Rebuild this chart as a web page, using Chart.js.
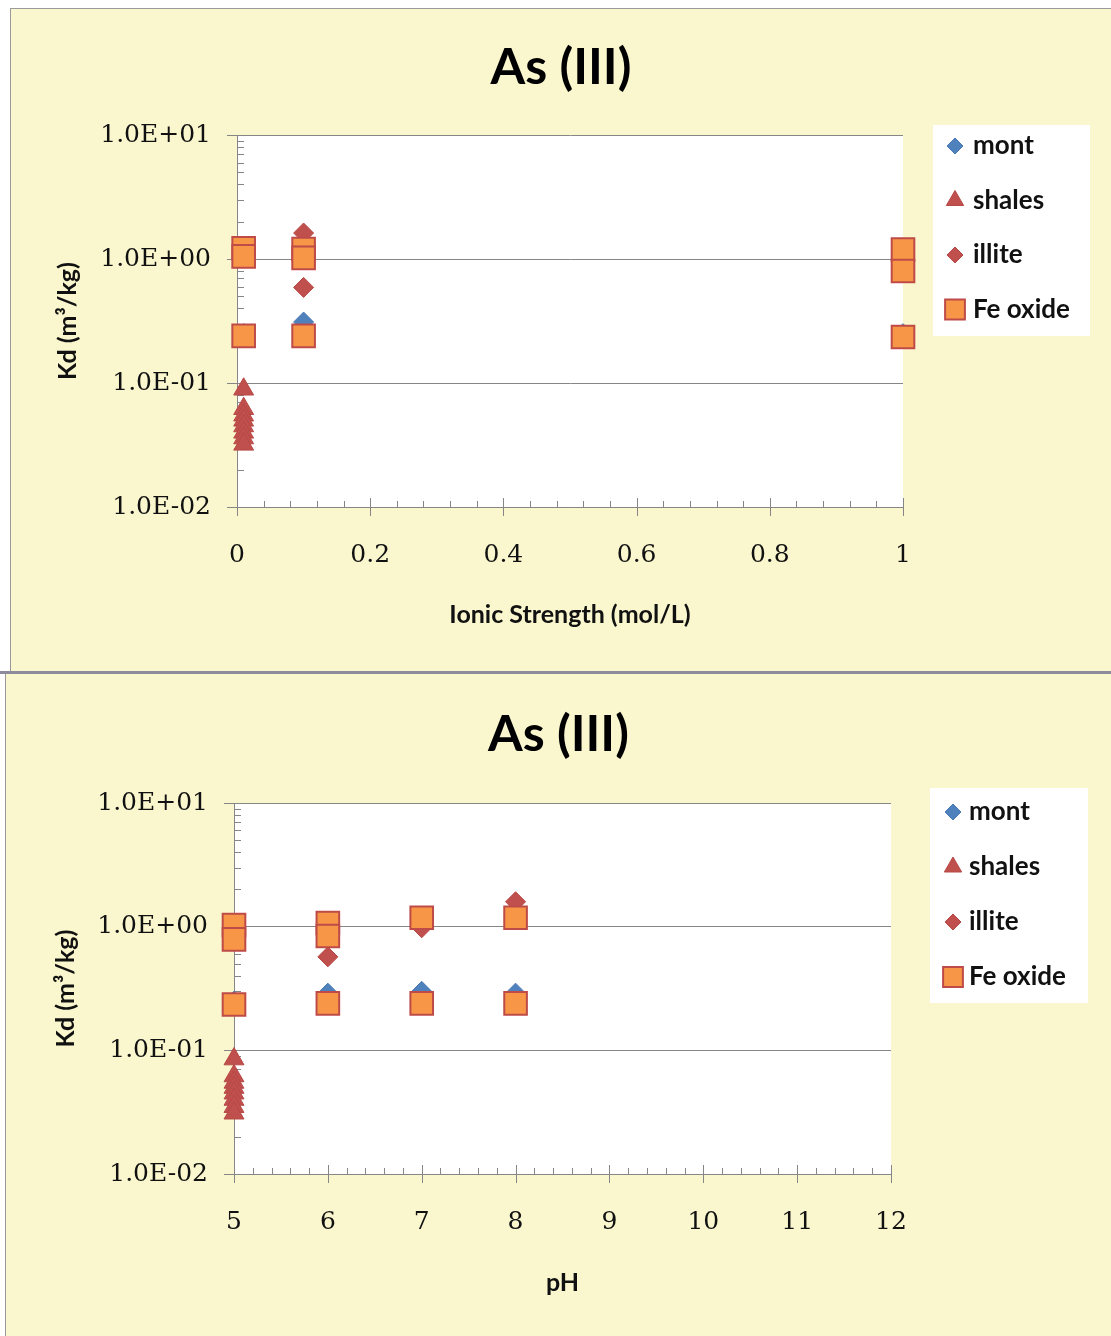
<!DOCTYPE html>
<html>
<head>
<meta charset="utf-8">
<script src="https://cdn.jsdelivr.net/npm/chart.js@4.4.1/dist/chart.umd.min.js"></script>
<style>
  html, body { margin: 0; padding: 0; background: #fff; }
  body { width: 1111px; height: 1336px; position: relative; overflow: hidden; }
  .panel { position: absolute; background: #FAF7CE; }
  #p1 { left: 10px; top: 8px; width: 1100px; height: 662px; border-left: 1px solid #9a9a9a; border-top: 1px solid #9a9a9a; }
  #sep { position: absolute; left: 0; top: 671px; width: 1111px; height: 3px; background: #8E8B9C; }
  #p2 { left: 5px; top: 674px; width: 1105px; height: 662px; border-left: 1px solid #9a9a9a; }
  canvas { position: absolute; left: 0; top: 0; }
</style>
</head>
<body>
<div class="panel" id="p1"><canvas id="ionicChart" width="1100" height="662"></canvas></div>
<div id="sep"></div>
<div class="panel" id="p2"><canvas id="phChart" width="1105" height="662"></canvas></div>

<script>
// ---- data ----
const seriesNames = ['mont', 'shales', 'illite', 'Fe oxide'];
const kdTicks = [0.01, 0.1, 1, 10];
const kdLabels = ['1.0E-02', '1.0E-01', '1.0E+00', '1.0E+01'];
const ionicTicks = [0, 0.2, 0.4, 0.6, 0.8, 1];
const ionicLabels = ['0', '0.2', '0.4', '0.6', '0.8', '1'];
const phTicks = [5, 6, 7, 8, 9, 10, 11, 12];
const phLabels = ['5', '6', '7', '8', '9', '10', '11', '12'];

// Kd vs ionic strength
const ionicMontX = [0.01, 0.1, 1];
const ionicMontY = [0.25, 0.31, 0.25];
const ionicShalesX = [0.01, 0.01, 0.01, 0.01, 0.01, 0.01, 0.01, 0.01];
const ionicShalesY = [0.089, 0.062, 0.055, 0.05, 0.045, 0.04, 0.036, 0.032];
const ionicIlliteX = [0.01, 0.1, 0.1, 1];
const ionicIlliteY = [1.1, 1.62, 0.59, 1.0];
const ionicFeX = [0.01, 0.01, 0.01, 0.1, 0.1, 0.1, 1, 1, 1];
const ionicFeY = [1.22, 1.05, 0.24, 1.2, 1.02, 0.24, 1.19, 0.8, 0.235];

// Kd vs pH
const phMontX = [5, 6, 7, 8];
const phMontY = [0.25, 0.29, 0.3, 0.29];
const phShalesX = [5, 5, 5, 5, 5, 5, 5, 5];
const phShalesY = [0.085, 0.062, 0.055, 0.05, 0.045, 0.04, 0.035, 0.031];
const phIlliteX = [5, 6, 7, 8];
const phIlliteY = [0.9, 0.57, 0.98, 1.59];
const phFeX = [5, 5, 5, 6, 6, 6, 7, 7, 8, 8];
const phFeY = [1.03, 0.79, 0.235, 1.07, 0.84, 0.24, 1.18, 0.24, 1.18, 0.24];

// ---- styling ----
const markStyles = [
  { style: 'rectRot',  r: 10, fill: '#4F81BD', line: '#4A7AB5', bw: 1, order: 3, legendR: 8 },
  { style: 'triangle', r: 11.5, fill: '#C0504D', line: '#B84845', bw: 1, order: 2, legendR: 10 },
  { style: 'rectRot',  r: 10, fill: '#C0504D', line: '#B84845', bw: 1, order: 1, legendR: 8 },
  { style: 'rect',     r: 16, fill: '#F79646', line: '#BE4B48', bw: 2, order: 0, legendR: 14 }
];
const gridGray = '#868686';
const sansBold = { family: 'Lato', weight: 'bold' };
const serifTick = { family: 'DejaVu Serif', weight: 'normal', size: 25 };

const isNear = (a, b) => Math.abs(Math.log10(a) - Math.log10(b)) < 1e-6;
const isDecade = v => kdTicks.some(t => isNear(v, t));

// white plot area
const plotBg = {
  id: 'plotBg',
  beforeDraw(chart) {
    const { ctx, chartArea: a } = chart;
    ctx.save();
    ctx.fillStyle = '#ffffff';
    ctx.fillRect(a.left, a.top, a.right - a.left, a.bottom - a.top);
    ctx.restore();
  }
};

// Excel-like tick marks: major crossing, minor inside
const axisTicks = {
  id: 'axisTicks',
  beforeDatasetsDraw(chart, args, o) {
    const { ctx, chartArea: a, scales: { x, y } } = chart;
    ctx.save();
    ctx.strokeStyle = gridGray;
    ctx.lineWidth = 1;
    ctx.beginPath();
    const xt = o.xMajor;
    xt.forEach((v, i) => {
      const px = Math.round(x.getPixelForValue(v)) + 0.5;
      ctx.moveTo(px, a.bottom - 9);
      ctx.lineTo(px, a.bottom + 9);
      if (i < xt.length - 1) {
        const step = (xt[i + 1] - v) / o.xMinorCount;
        for (let k = 1; k < o.xMinorCount; k++) {
          const mx = Math.round(x.getPixelForValue(v + k * step)) + 0.5;
          ctx.moveTo(mx, a.bottom - 6);
          ctx.lineTo(mx, a.bottom);
        }
      }
    });
    kdTicks.slice(0, -1).forEach(d => {
      for (let m = 2; m < 10; m++) {
        const py = Math.round(y.getPixelForValue(d * m)) + 0.5;
        ctx.moveTo(a.left, py);
        ctx.lineTo(a.left + 7, py);
      }
    });
    ctx.stroke();
    ctx.restore();
  }
};

// boxed legend at the top right, as in the reference
const boxLegend = {
  id: 'boxLegend',
  afterDatasetsDraw(chart, args, o) {
    const ctx = chart.ctx;
    ctx.save();
    ctx.fillStyle = '#ffffff';
    ctx.fillRect(o.x, o.y, o.w, o.h);
    chart.data.datasets.forEach((ds, i) => {
      const cy = o.firstY + i * o.gap;
      ctx.fillStyle = ds.backgroundColor;
      ctx.strokeStyle = ds.borderColor;
      ctx.lineWidth = ds.borderWidth;
      Chart.helpers.drawPoint(ctx, { pointStyle: ds.pointStyle, radius: markStyles[i].legendR, borderWidth: ds.borderWidth, rotation: 0 }, o.markerX, cy);
      ctx.fillStyle = '#111';
      ctx.font = 'bold 26px Lato';
      ctx.textBaseline = 'middle';
      ctx.textAlign = 'left';
      ctx.fillText(ds.label, o.textX, cy);
    });
    ctx.restore();
  }
};

function buildChart(id, o) {
  const datasets = seriesNames.map((name, i) => ({
    label: name,
    data: o.xs[i].map((xv, j) => ({ x: xv, y: o.ys[i][j] })),
    pointStyle: markStyles[i].style,
    pointRadius: markStyles[i].r,
    backgroundColor: markStyles[i].fill,
    borderColor: markStyles[i].line,
    borderWidth: markStyles[i].bw,
    order: markStyles[i].order,
    showLine: false,
    clip: false
  }));

  return new Chart(document.getElementById(id), {
    type: 'scatter',
    data: { datasets },
    options: {
      responsive: false,
      animation: false,
      events: [],
      layout: { padding: 0 },
      plugins: {
        legend: { display: false },
        tooltip: { enabled: false },
        title: {
          display: true,
          text: 'As (III)',
          color: '#000',
          font: { ...sansBold, size: 50 },
          padding: o.titlePad
        },
        axisTicks: { xMajor: o.xTicks, xMinorCount: o.xMinorCount },
        boxLegend: o.legend
      },
      scales: {
        x: {
          type: 'linear',
          min: o.xTicks[0],
          max: o.xTicks[o.xTicks.length - 1],
          afterBuildTicks: s => { s.ticks = o.xTicks.map(v => ({ value: v })); },
          grid: { display: false, drawTicks: false },
          border: { display: true, color: gridGray, width: 1 },
          ticks: {
            color: '#111', font: serifTick, padding: 33, maxRotation: 0, autoSkip: false,
            callback: (v, i) => o.xLabels[i]
          },
          title: { display: true, text: o.xTitle, color: '#111', font: { ...sansBold, size: 25 }, padding: { top: 0, bottom: o.xTitlePad } },
          afterFit: s => { s.height = o.xHeight; }
        },
        y: {
          type: 'logarithmic',
          min: kdTicks[0],
          max: kdTicks[kdTicks.length - 1],
          grid: {
            color: c => (c.tick && isDecade(c.tick.value)) ? gridGray : 'rgba(0,0,0,0)',
            tickColor: c => (c.tick && isDecade(c.tick.value)) ? gridGray : 'rgba(0,0,0,0)',
            tickLength: 10,
            lineWidth: 1
          },
          border: { display: true, color: gridGray, width: 1 },
          ticks: {
            color: '#111',
            font: serifTick,
            padding: o.yTickPad,
            autoSkip: false,
            callback: v => {
              const k = kdTicks.findIndex(t => isNear(v, t));
              return k >= 0 ? kdLabels[k] : '';
            }
          },
          title: { display: true, text: 'Kd (m³/kg)', color: '#111', font: { ...sansBold, size: 25 }, padding: { top: o.yTitlePad, bottom: 0 } },
          afterFit: s => { s.width = o.yWidth; }
        },
        pad: {
          type: 'linear',
          position: 'right',
          display: true,
          grid: { display: false, drawTicks: false },
          border: { display: false },
          ticks: { display: false },
          afterFit: s => { s.width = o.rightPad; }
        }
      }
    },
    plugins: [plotBg, axisTicks, boxLegend]
  });
}

buildChart('ionicChart', {
  xs: [ionicMontX, ionicShalesX, ionicIlliteX, ionicFeX],
  ys: [ionicMontY, ionicShalesY, ionicIlliteY, ionicFeY],
  xTicks: ionicTicks,
  xLabels: ionicLabels,
  xMinorCount: 5,
  xTitle: 'Ionic Strength (mol/L)',
  titlePad: { top: 29, bottom: 37 },
  xHeight: 164,
  xTitlePad: 41,
  yWidth: 226,
  yTickPad: 16,
  yTitlePad: 42,
  rightPad: 208,
  legend: { x: 922, y: 116, w: 157, h: 211, firstY: 137, gap: 54.5, markerX: 944, textX: 962 }
});

buildChart('phChart', {
  xs: [phMontX, phShalesX, phIlliteX, phFeX],
  ys: [phMontY, phShalesY, phIlliteY, phFeY],
  xTicks: phTicks,
  xLabels: phLabels,
  xMinorCount: 5,
  xTitle: 'pH',
  titlePad: { top: 31, bottom: 38 },
  xHeight: 162,
  xTitlePad: 38,
  yWidth: 228,
  yTickPad: 16,
  yTitlePad: 45,
  rightPad: 220,
  legend: { x: 924, y: 114, w: 158, h: 215, firstY: 138, gap: 55, markerX: 947, textX: 963 }
});
</script>
</body>
</html>
